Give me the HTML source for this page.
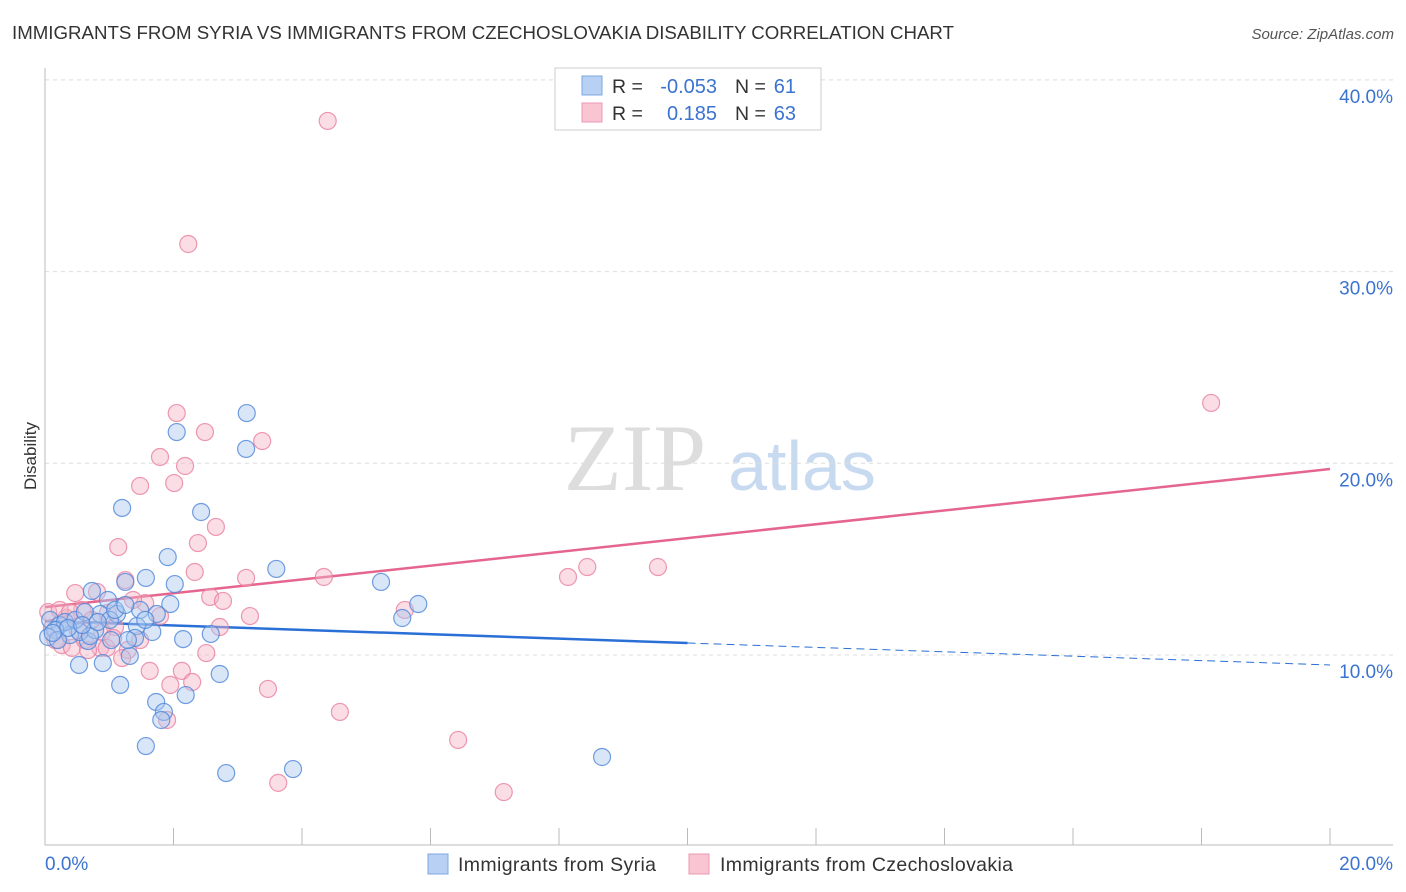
<!DOCTYPE html>
<html><head><meta charset="utf-8"><style>
body{margin:0;background:#fff;font-family:"Liberation Sans",sans-serif;}
svg{display:block}
</style></head><body>
<svg id="chart" width="1406" height="892">
<text x="12" y="39" font-size="18" fill="#333" textLength="942" lengthAdjust="spacingAndGlyphs">IMMIGRANTS FROM SYRIA VS IMMIGRANTS FROM CZECHOSLOVAKIA DISABILITY CORRELATION CHART</text>
<text x="1394" y="39" font-size="15" fill="#555" font-style="italic" text-anchor="end">Source: ZipAtlas.com</text>
<text x="36" y="456" font-size="17" fill="#333" text-anchor="middle" transform="rotate(-90 36 456)">Disability</text>
<g><text x="635" y="490" font-size="95" font-family="Liberation Serif" fill="#ddd" text-anchor="middle">ZIP</text><text x="802" y="490" font-size="70" fill="#c8daf0" text-anchor="middle">atlas</text></g>
<g id="grid"></g><g id="axes"></g><g id="lines"></g><g id="pts"></g>
<g>
<rect x="555" y="68" width="266" height="62" fill="#fff" stroke="#ccc"/>
<rect x="582" y="76" width="20" height="19" fill="#b7d0f3" stroke="#7ea7e0"/>
<rect x="582" y="103" width="20" height="19" fill="#f9c5d3" stroke="#ec99b3"/>
<text x="612" y="93" font-size="19.5" fill="#333">R =</text><text x="717" y="93" font-size="20" fill="#3b73d0" text-anchor="end">-0.053</text>
<text x="735" y="93" font-size="19.5" fill="#333">N =</text><text x="796" y="93" font-size="20" fill="#3b73d0" text-anchor="end">61</text>
<text x="612" y="120" font-size="19.5" fill="#333">R =</text><text x="717" y="120" font-size="20" fill="#3b73d0" text-anchor="end">0.185</text>
<text x="735" y="120" font-size="19.5" fill="#333">N =</text><text x="796" y="120" font-size="20" fill="#3b73d0" text-anchor="end">63</text>
</g>
<g>
<rect x="428" y="854" width="20" height="20" fill="#b7d0f3" stroke="#7ea7e0"/>
<text x="458" y="871" font-size="19.5" fill="#333" textLength="198">Immigrants from Syria</text>
<rect x="689" y="854" width="20" height="20" fill="#f9c5d3" stroke="#ec99b3"/>
<text x="720" y="871" font-size="19.5" fill="#333" textLength="293">Immigrants from Czechoslovakia</text>
</g>
</svg>
<script>
const yTicks=[10,20,30,40];
const yTickLabels=["10.0%","20.0%","30.0%","40.0%"];
const xTickCount=10;
const blueX=[1.20,2.05,3.14,3.13,2.43,1.91,1.57,1.25,2.02,0.73,0.98,1.95,1.12,1.74,3.60,5.23,5.81,5.56,1.43,1.67,2.15,2.58,1.40,1.03,0.67,0.53,0.90,1.32,1.17,2.72,2.19,1.73,1.85,1.81,1.57,2.82,3.86,8.67,0.08,0.23,0.39,0.54,0.78,0.31,0.16,0.47,0.86,0.62,1.01,0.05,0.20,0.70,1.09,1.48,1.25,0.36,0.12,0.58,0.82,1.29,1.56];
const blueY=[17.67,21.63,22.62,20.75,17.46,15.11,14.02,13.81,13.70,13.34,12.87,12.66,12.14,12.14,14.49,13.81,12.66,11.93,11.51,11.20,10.83,11.10,10.89,10.78,10.73,9.48,9.58,9.95,8.44,9.01,7.91,7.55,7.03,6.61,5.25,3.84,4.05,4.68,11.83,11.56,11.04,11.20,11.30,11.72,11.30,11.83,12.14,12.24,11.83,10.94,10.78,10.99,12.35,12.35,12.61,11.41,11.15,11.56,11.72,10.78,11.83];
const pinkX=[4.40,2.23,18.15,2.05,2.49,3.38,1.79,2.18,1.48,2.01,2.66,2.38,1.14,2.33,3.13,4.34,8.14,8.44,9.54,1.25,0.47,0.81,2.57,2.77,1.56,1.37,3.19,5.60,2.72,1.79,0.98,0.58,1.09,0.86,0.96,1.29,1.20,2.51,1.63,2.13,2.29,1.95,3.47,4.59,1.90,6.43,3.63,7.14,0.05,0.16,0.26,0.42,0.62,0.73,0.33,0.51,0.89,0.67,1.06,0.11,1.48,0.23,0.39];
const pinkY=[37.86,31.44,23.15,22.62,21.63,21.16,20.33,19.86,18.82,18.97,16.68,15.84,15.63,14.33,14.02,14.07,14.07,14.59,14.59,13.91,13.23,13.29,13.03,12.82,12.71,12.87,12.03,12.35,11.46,12.03,12.19,12.35,11.46,10.37,10.37,10.26,9.84,10.10,9.17,9.17,8.59,8.44,8.23,7.03,6.61,5.57,3.33,2.85,12.24,10.78,10.52,10.37,10.78,11.83,11.93,11.30,11.20,10.26,10.89,11.41,10.78,12.35,12.24];
const blueTrend=[11.77,9.48];
const pinkTrend=[12.50,19.70];
const NS='http://www.w3.org/2000/svg';
const X=v=>45+v*64.25, Y=v=>655-(v-10)*19.17;
function mk(t,a,p){const e=document.createElementNS(NS,t);for(const k in a)e.setAttribute(k,a[k]);p.appendChild(e);return e;}
const grid=document.getElementById('grid'),axes=document.getElementById('axes'),lines=document.getElementById('lines'),pts=document.getElementById('pts');
yTicks.forEach((t,i)=>{
 const l=mk('line',{x1:45,x2:1393,y1:Y(t),y2:Y(t),stroke:'#ddd','stroke-dasharray':'4,4'},grid);
 
 
 const tx=mk('text',{x:1393,y:Y(t)+23,'font-size':19,fill:'#3b73d0','text-anchor':'end'},axes);tx.textContent=yTickLabels[i];
 
 
});
const ax=mk('path',{d:'M45 68V845H1393',stroke:'#bbb',fill:'none'},axes);


for(let i=0;i<=xTickCount;i++){const x=X(i*2);const t=mk('line',{x1:x,x2:x,y1:828,y2:845,stroke:'#bbb'},axes);
 
 }
const xl0=mk('text',{x:45,y:870,'font-size':19,fill:'#3b73d0'},axes);xl0.textContent='0.0%';


const xl1=mk('text',{x:1393,y:870,'font-size':19,fill:'#3b73d0','text-anchor':'end'},axes);xl1.textContent='20.0%';


function draw(xs,ys,fill,stroke,name){xs.forEach((x,i)=>{const c=mk('circle',{cx:X(x),cy:Y(ys[i]),r:8.5,fill:fill,'fill-opacity':0.45,stroke:stroke,'stroke-width':1.2,'stroke-opacity':0.8},pts);
 
 });}
draw(pinkX,pinkY,'#f4b3c6','#e8809f','point-czechoslovakia');
draw(blueX,blueY,'#a9c7f0','#4f86d8','point-syria');
const bm=blueTrend[0]+(blueTrend[1]-blueTrend[0])*0.5;
const b1=mk('line',{x1:X(0),y1:Y(blueTrend[0]),x2:X(10),y2:Y(bm),stroke:'#2a6fd6','stroke-width':2.5},lines);


const b2=mk('line',{x1:X(10),y1:Y(bm),x2:X(20),y2:Y(blueTrend[1]),stroke:'#2a6fd6','stroke-width':1,'stroke-dasharray':'8,5'},lines);


const p1=mk('line',{x1:X(0),y1:Y(pinkTrend[0]),x2:X(20),y2:Y(pinkTrend[1]),stroke:'#e5658f','stroke-width':2.5},lines);


</script>
</body></html>
